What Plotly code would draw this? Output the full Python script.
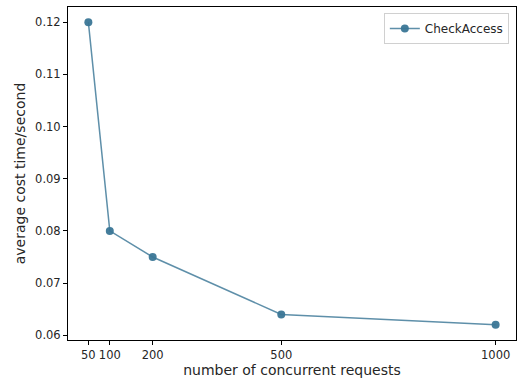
import plotly.graph_objects as go

requests = [50, 100, 200, 500, 1000]
cost = [0.120, 0.080, 0.075, 0.064, 0.062]
x_ticks = [50, 100, 200, 500, 1000]
y_ticks = [0.06, 0.07, 0.08, 0.09, 0.10, 0.11, 0.12]
y_tick_labels = ["0.06", "0.07", "0.08", "0.09", "0.10", "0.11", "0.12"]

fig = go.Figure()
fig.add_trace(go.Scatter(
    x=requests, y=cost, mode="lines+markers", name="CheckAccess",
    line=dict(color="rgba(58,118,150,0.82)", width=1.5),
    marker=dict(color="rgba(58,118,150,0.95)", size=8),
))

font = dict(family="DejaVu Sans", size=12, color="#262626")
tickfont = dict(family="DejaVu Sans", size=11.5, color="#262626")
fig.update_layout(
    width=519, height=383,
    margin=dict(l=68, r=3, t=7, b=43),
    paper_bgcolor="white", plot_bgcolor="white",
    font=font,
    showlegend=True,
    legend=dict(x=0.984, y=0.982, xanchor="right", yanchor="top",
                bordercolor="#d0d0d0", borderwidth=1, bgcolor="white",
                font=font, itemwidth=30),
    xaxis=dict(range=[2.5, 1047.5], tickvals=x_ticks, ticktext=[str(v) for v in x_ticks],
               tickfont=tickfont,
               showgrid=False, zeroline=False, showline=True, linecolor="black", linewidth=1,
               mirror=True, ticks="outside", ticklen=4, tickcolor="black",
               title=dict(text="number of concurrent requests", standoff=4)),
    yaxis=dict(range=[0.0591, 0.1229], tickvals=y_ticks, ticktext=y_tick_labels,
               tickfont=tickfont,
               showgrid=False, zeroline=False, showline=True, linecolor="black", linewidth=1,
               mirror=True, ticks="outside", ticklen=4, tickcolor="black",
               title=dict(text="average cost time/second", standoff=6)),
)
fig.write_html("out.html")
